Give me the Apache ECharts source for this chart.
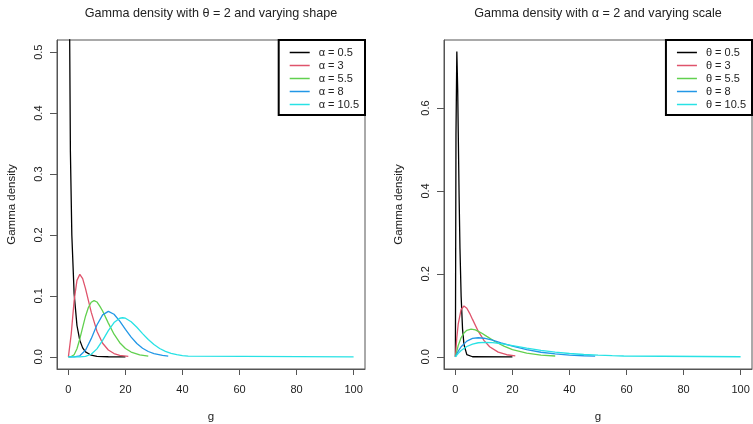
<!DOCTYPE html>
<html>
<head>
<meta charset="utf-8">
<script src="https://cdn.jsdelivr.net/npm/echarts@6/dist/echarts.min.js"></script>
<style>
html,body{margin:0;padding:0;background:#fff;}
#c{width:753px;height:424px;}
</style>
</head>
<body>
<div id="c"></div>
<script>
// ---- data ----
const xTicks = [0, 20, 40, 60, 80, 100];
const leftYTicks = [0, 0.1, 0.2, 0.3, 0.4, 0.5];
const rightYTicks = [0, 0.2, 0.4, 0.6];

const leftNames = ['α = 0.5', 'α = 3', 'α = 5.5', 'α = 8', 'α = 10.5'];
const rightNames = ['θ = 0.5', 'θ = 3', 'θ = 5.5', 'θ = 8', 'θ = 10.5'];
const colors = ['#000000', '#DF536B', '#61D04F', '#2297E6', '#28E2E5'];

// Left panel: theta = 2, shape varies
const shape05 = [[0.05,1.74],[0.3,0.627],[0.7,0.336],[1.2,0.2],[2,0.104],[3,0.0514],[4,0.027],[5,0.0147],[6,0.0081],[8,0.0026],[10,0.00085],[14,0.0001],[20,0]];
const shape3 = [[0,0],[1,0.0379],[2,0.092],[3,0.1255],[4,0.1353],[5,0.1283],[6,0.112],[7,0.0925],[8,0.0733],[10,0.0421],[12,0.0223],[14,0.0112],[16,0.0054],[18,0.0025],[21,0.0008]];
const shape55 = [[0,0],[1,0.0003],[2,0.0035],[3,0.0132],[4,0.0293],[5,0.0484],[6,0.0667],[7,0.081],[8,0.0896],[9,0.0923],[10,0.09],[11,0.0833],[12,0.0752],[14,0.0553],[16,0.0371],[18,0.0232],[20,0.0137],[22,0.0078],[25,0.0031],[28,0.0011]];
const shape8 = [[0,0],[2,0.00004],[4,0.0017],[6,0.0108],[8,0.0298],[10,0.0522],[12,0.0688],[14,0.0745],[16,0.0698],[18,0.0586],[20,0.045],[22,0.0323],[24,0.0218],[26,0.0141],[28,0.0087],[30,0.0052],[33,0.0023],[35,0.0013]];
const shape105 = [[0,0],[4,0.00004],[6,0.00075],[8,0.0042],[10,0.013],[12,0.027],[14,0.0429],[16,0.0562],[18,0.0633],[19,0.0641],[20,0.0634],[22,0.0576],[24,0.0485],[26,0.0381],[28,0.0284],[30,0.0201],[32,0.0136],[34,0.0089],[36,0.0057],[38,0.0035],[40,0.0021],[42,0.0012],[100,0]];

// Right panel: alpha = 2, scale varies
const scale05 = [[0,0],[0.2,0.536],[0.5,0.736],[0.8,0.646],[1,0.541],[1.3,0.386],[1.6,0.261],[2,0.147],[2.5,0.0674],[3,0.0297],[4,0.0054],[6,0.00015],[20,0]];
const scale3 = [[0,0],[0.5,0.047],[1,0.0796],[2,0.1141],[3,0.1226],[4,0.1171],[5,0.1049],[6,0.0902],[8,0.0618],[10,0.0396],[12,0.0244],[15,0.0112],[18,0.005],[21,0.0021]];
const scale55 = [[0,0],[1,0.0276],[2,0.046],[3,0.0575],[4,0.0639],[5.5,0.0669],[7,0.0648],[9,0.0579],[11,0.0492],[14,0.0363],[17,0.0256],[20,0.0174],[25,0.0088],[30,0.0042],[35,0.002]];
const scale8 = [[0,0],[1,0.0138],[2,0.0243],[4,0.0379],[6,0.0443],[8,0.046],[10,0.0448],[13,0.04],[16,0.0338],[20,0.0257],[25,0.0172],[30,0.011],[35,0.0069],[40,0.0042],[45,0.0025],[49,0.0017]];
const scale105 = [[0,0],[1,0.0083],[2,0.015],[4,0.0248],[6,0.0307],[8,0.0339],[10.5,0.035],[13,0.0342],[16,0.0316],[20,0.027],[25,0.021],[30,0.0156],[35,0.0113],[40,0.008],[45,0.0056],[50,0.0039],[55,0.0027],[59,0.0019],[100,0.0001]];

const leftData = [shape05, shape3, shape55, shape8, shape105];
const rightData = [scale05, scale3, scale55, scale8, scale105];

// ---- chart ----
const FONT = '"Liberation Sans", Arial, sans-serif';
const boxColor = '#555';

function xAxis(gi) {
  return {
    type: 'value', gridIndex: gi, min: -4, max: 104,
    name: 'g', nameLocation: 'middle', nameGap: 42,
    nameTextStyle: {fontFamily: FONT, fontSize: 11.5, color: '#222'},
    axisLine: {show: true, onZero: false, lineStyle: {color: boxColor, width: 1}},
    axisTick: {show: true, length: 6, inside: false, customValues: xTicks, lineStyle: {color: boxColor}},
    axisLabel: {customValues: xTicks, margin: 15, fontFamily: FONT, fontSize: 11, color: '#222'},
    splitLine: {show: false}
  };
}
function yAxis(gi, min, max, ticks) {
  return {
    type: 'value', gridIndex: gi, min: min, max: max,
    name: 'Gamma density', nameLocation: 'middle', nameGap: 39,
    nameTextStyle: {fontFamily: FONT, fontSize: 11.5, color: '#222'},
    axisLine: {show: true, onZero: false, lineStyle: {color: boxColor, width: 1}},
    axisTick: {show: true, length: 7, inside: false, customValues: ticks, lineStyle: {color: boxColor}},
    axisLabel: {customValues: ticks, rotate: 90, margin: 13, fontFamily: FONT, fontSize: 11, color: '#222',
      formatter: v => Number(v).toFixed(1)},
    splitLine: {show: false}
  };
}

const series = [];
leftData.forEach((d, i) => series.push({
  name: leftNames[i], type: 'line', xAxisIndex: 0, yAxisIndex: 0, data: d,
  symbol: 'none', smooth: false, clip: true, animation: false,
  lineStyle: {color: colors[i], width: 1.3}, itemStyle: {color: colors[i]}
}));
rightData.forEach((d, i) => series.push({
  name: rightNames[i], type: 'line', xAxisIndex: 1, yAxisIndex: 1, data: d,
  symbol: 'none', smooth: false, clip: true, animation: false,
  lineStyle: {color: colors[i], width: 1.3}, itemStyle: {color: colors[i]}
}));

function legend(names, right) {
  return {
    data: names, orient: 'vertical', right: right, top: 40,
    icon: 'rect', itemWidth: 20, itemHeight: 1.5, itemGap: 0,
    padding: [6, 6, 4, 11],
    borderColor: '#000', borderWidth: 2, backgroundColor: '#fff',
    selectedMode: false,
    textStyle: {fontFamily: FONT, fontSize: 11, color: '#222', lineHeight: 13, padding: [0, 0, 0, 4]}
  };
}

const chart = echarts.init(document.getElementById('c'), null, {renderer: 'canvas'});
chart.setOption({
  animation: false,
  backgroundColor: '#fff',
  grid: [
    {left: 57, top: 40, width: 308, height: 329, show: true, borderColor: boxColor, borderWidth: 1, containLabel: false, outerBoundsMode: 'none'},
    {left: 444, top: 40, width: 308, height: 329, show: true, borderColor: boxColor, borderWidth: 1, containLabel: false, outerBoundsMode: 'none'}
  ],
  xAxis: [xAxis(0), xAxis(1)],
  yAxis: [yAxis(0, -0.02, 0.52, leftYTicks), yAxis(1, -0.0294, 0.764, rightYTicks)],
  legend: [legend(leftNames, 753 - 365), legend(rightNames, 1)],
  graphic: [
    {type: 'text', x: 211, y: 14, style: {text: 'Gamma density with θ = 2 and varying shape', fontFamily: FONT, fontSize: 12.6, fill: '#222', textAlign: 'center', textVerticalAlign: 'middle'}},
    {type: 'text', x: 598, y: 14, style: {text: 'Gamma density with α = 2 and varying scale', fontFamily: FONT, fontSize: 12.6, fill: '#222', textAlign: 'center', textVerticalAlign: 'middle'}}
  ],
  series: series
});
</script>
</body>
</html>
